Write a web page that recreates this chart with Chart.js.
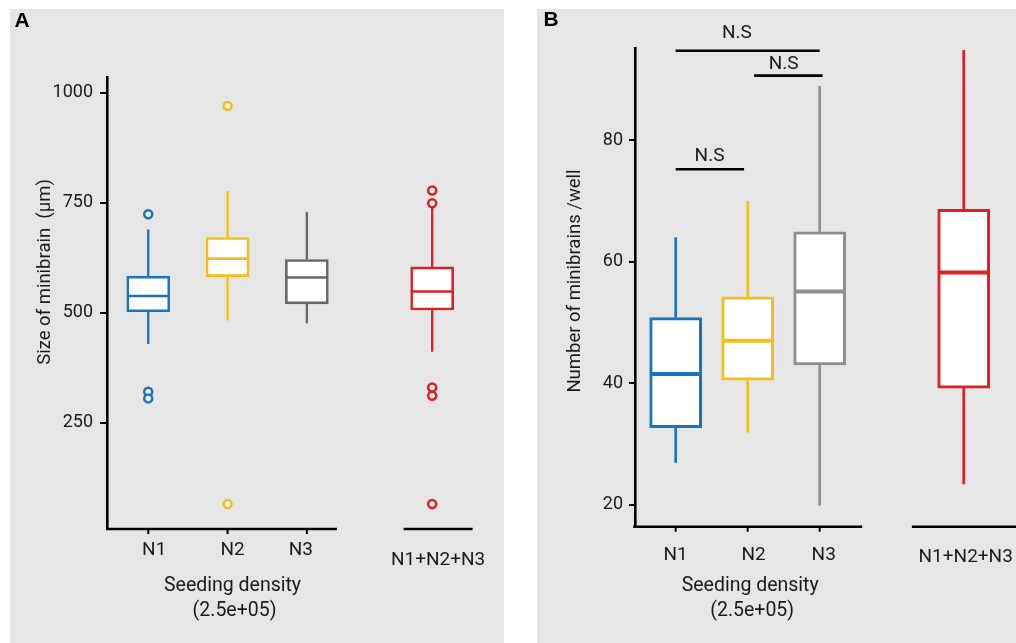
<!DOCTYPE html>
<html><head><meta charset="utf-8">
<script src="https://cdn.jsdelivr.net/npm/chart.js@4.4.1/dist/chart.umd.min.js"></script>
<style>
html,body{margin:0;padding:0;background:#fff;width:1016px;height:643px;overflow:hidden}
.panel{position:absolute;background:#e6e6e6}
#pa{left:10px;top:9px;width:494px;height:634px}
#pb{left:537px;top:9px;width:479px;height:634px}
canvas{display:block}
</style></head><body>
<div class="panel" id="pa"><canvas id="ca" width="494" height="634"></canvas></div>
<div class="panel" id="pb"><canvas id="cb" width="479" height="634"></canvas></div>
<script>
// ---------- data ----------
const categories = ['N1', 'N2', 'N3', 'N1+N2+N3'];
const xTitleLines = ['Seeding density', '(2.5e+05)'];

// Panel A: size of minibrain (µm)
const sizeTicks = [250, 500, 750, 1000];
const sizeMin    = [429, 482, 476, 411];
const sizeQ1     = [502, 582, 520, 506];
const sizeMedian = [538, 623, 580, 548];
const sizeQ3     = [583, 671, 621, 604];
const sizeMax    = [689, 777, 729, 742];
const sizeOutlierGroup = [0, 0, 0, 1, 1, 3, 3, 3, 3, 3];
const sizeOutlierValue = [724, 320, 305, 970, 65, 778, 749, 330, 311, 65];

// Panel B: number of minibrains / well
const countTicks = [20, 40, 60, 80];
const countMin    = [26.9, 31.9, 19.9, 23.4];
const countQ1     = [32.7, 40.5, 43.0, 39.2];
const countMedian = [41.5, 47.0, 55.1, 58.2];
const countQ3     = [50.8, 54.2, 64.9, 68.6];
const countMax    = [64.0, 70.0, 88.9, 94.8];

// significance brackets (panel B)
const sigFrom   = [1, 2.09, 1];
const sigTo     = [3, 3.04, 1.95];
const sigLevel  = [94.7, 90.6, 75.2];
const sigLabel  = ['N.S', 'N.S', 'N.S'];
const sigLabelX = [1.85, 2.5, 1.47];
const sigLabelY = [97.6, 92.4, 77.3];

// ---------- layout / style ----------
const FONT = 'Roboto, "Open Sans", sans-serif';
const colorsA = ['#1a73bf', '#f2bf1a', '#666666', '#de1f26'];
const colorsB = ['#1a73bf', '#f2bf1a', '#8f8f8f', '#de1f26'];
const posA = [1, 2, 3, 4.58];
const posB = [1, 2, 3, 5];

function boxPlugin(p) {
  return {
    id: 'box' + p.letter,
    beforeDatasetsDraw(chart) {
      const {ctx, scales: {x, y}} = chart;
      ctx.save();
      ctx.lineWidth = p.whiskerW;
      p.pos.forEach((pos, i) => {
        const px = x.getPixelForValue(pos);
        ctx.strokeStyle = p.colors[i];
        ctx.beginPath();
        ctx.moveTo(px, y.getPixelForValue(p.q3[i])); ctx.lineTo(px, y.getPixelForValue(p.max[i]));
        ctx.moveTo(px, y.getPixelForValue(p.q1[i])); ctx.lineTo(px, y.getPixelForValue(p.min[i]));
        ctx.stroke();
      });
      ctx.restore();
    },
    afterDatasetsDraw(chart) {
      const {ctx, scales: {x, y}} = chart;
      ctx.save();
      ctx.lineWidth = p.medianW;
      p.pos.forEach((pos, i) => {
        const px = x.getPixelForValue(pos);
        const hw = p.boxW / 2 - p.boxBorder / 2;
        const py = y.getPixelForValue(p.med[i]);
        ctx.strokeStyle = p.colors[i];
        ctx.beginPath(); ctx.moveTo(px - hw, py); ctx.lineTo(px + hw, py); ctx.stroke();
      });
      ctx.restore();
    },
    afterDraw(chart) {
      const {ctx, chartArea: ca, scales: {x, y}} = chart;
      ctx.save();
      // x axis segments
      ctx.strokeStyle = '#000'; ctx.lineWidth = 2.6;
      p.segments.forEach(s => {
        ctx.beginPath();
        ctx.moveTo(x.getPixelForValue(s[0]), ca.bottom);
        ctx.lineTo(x.getPixelForValue(s[1]), ca.bottom);
        ctx.stroke();
      });
      // tick marks
      ctx.lineWidth = 2;
      for (let i = 0; i < 3; i++) {
        const px = x.getPixelForValue(p.pos[i]);
        ctx.beginPath(); ctx.moveTo(px, ca.bottom); ctx.lineTo(px, ca.bottom + 5); ctx.stroke();
      }
      // tick labels
      ctx.fillStyle = '#1a1a1a';
      ctx.font = '19px ' + FONT;
      ctx.textAlign = 'center'; ctx.textBaseline = 'middle';
      categories.forEach((c, i) => {
        ctx.fillText(c, x.getPixelForValue(p.pos[i]) + p.labelDx[i], ca.bottom + (i < 3 ? p.labelDy : p.labelDy4));
      });
      // x title
      ctx.font = '19.5px ' + FONT;
      const tx = x.getPixelForValue(p.pos[1]) + p.titleDx;
      ctx.fillText(xTitleLines[0], tx, ca.bottom + p.titleDy);
      ctx.fillText(xTitleLines[1], tx + 2, ca.bottom + p.titleDy + 25);
      // y title
      ctx.save();
      ctx.translate(p.yTitleX, p.yTitleY);
      ctx.rotate(-Math.PI / 2);
      ctx.font = '18.5px ' + FONT;
      ctx.fillText(p.yTitle, 0, 0);
      ctx.restore();
      // panel letter
      ctx.font = 'bold 21px "Liberation Sans", Arial, sans-serif';
      ctx.fillStyle = '#000';
      ctx.fillText(p.letter, p.letterX, p.letterY);
      // significance bars
      if (p.sig) {
        ctx.lineWidth = 2.6;
        ctx.font = '19px ' + FONT;
        ctx.fillStyle = '#1a1a1a';
        sigFrom.forEach((f, k) => {
          const py = y.getPixelForValue(sigLevel[k]);
          const x0 = x.getPixelForValue(f), x1 = x.getPixelForValue(sigTo[k]);
          ctx.beginPath(); ctx.moveTo(x0, py); ctx.lineTo(x1, py); ctx.stroke();
          ctx.fillText(sigLabel[k], x.getPixelForValue(sigLabelX[k]), y.getPixelForValue(sigLabelY[k]));
        });
      }
      ctx.restore();
    }
  };
}

function makeChart(canvasId, p) {
  const boxes = {
    type: 'bar',
    data: categories.map((c, i) => ({x: p.pos[i], y: [p.q1[i], p.q3[i]]})),
    backgroundColor: '#ffffff',
    borderColor: p.colors,
    borderWidth: p.boxBorder,
    borderSkipped: false,
    barThickness: p.boxW,
    order: 2
  };
  const outliers = {
    type: 'scatter',
    data: p.outVal.map((v, k) => ({x: p.pos[p.outGrp[k]], y: v})),
    pointRadius: 4,
    pointBorderWidth: 2.5,
    pointBackgroundColor: '#f4f4f4',
    pointBorderColor: p.outGrp.map(g => p.colors[g]),
    order: 1
  };
  return new Chart(document.getElementById(canvasId), {
    type: 'bar',
    data: {datasets: p.outVal.length ? [boxes, outliers] : [boxes]},
    options: {
      responsive: false,
      animation: false,
      layout: {padding: p.padding},
      plugins: {legend: {display: false}, tooltip: {enabled: false}},
      scales: {
        x: {type: 'linear', display: false, min: p.xMin, max: p.xMax, offset: false},
        y: {
          type: 'linear', min: p.yMin, max: p.yMax,
          afterBuildTicks: s => { s.ticks = p.ticks.map(v => ({value: v})); },
          afterFit: s => { s.width = 60; },
          border: {display: true, color: '#000', width: 2.6},
          grid: {display: true, drawOnChartArea: false, drawTicks: true, tickLength: p.tickLen, color: '#000', lineWidth: 2},
          ticks: {font: {family: FONT, size: 18}, color: '#1a1a1a', padding: p.tickPad, callback: v => String(v)}
        }
      }
    },
    plugins: [boxPlugin(p)]
  });
}

makeChart('ca', {
  letter: 'A', letterX: 12, letterY: 12,
  pos: posA, colors: colorsA,
  min: sizeMin, q1: sizeQ1, med: sizeMedian, q3: sizeQ3, max: sizeMax,
  outGrp: sizeOutlierGroup, outVal: sizeOutlierValue,
  ticks: sizeTicks, yMin: 8, yMax: 1036, xMin: 0.48, xMax: 5.1,
  padding: {left: 37, top: 68, bottom: 114, right: 30.6},
  boxW: 43, boxBorder: 2.6, medianW: 2.6, whiskerW: 2.3,
  tickLen: 7, tickPad: 7,
  segments: [[0.47, 3.38], [4.22, 5.09]],
  labelDx: [6, 5, -6, 6], labelDy: 21, labelDy4: 31.7,
  titleDx: 5, titleDy: 57.5,
  yTitle: 'Size of minibrain  (\u00b5m)', yTitleX: 35, yTitleY: 263,
  sig: false
});

makeChart('cb', {
  letter: 'B', letterX: 14, letterY: 11,
  pos: posB, colors: colorsB,
  min: countMin, q1: countQ1, med: countMedian, q3: countQ3, max: countMax,
  outGrp: [], outVal: [],
  ticks: countTicks, yMin: 16.4, yMax: 95.1, xMin: 0.435, xMax: 5.4,
  padding: {left: 38, top: 39.3, bottom: 116.3, right: 23.5},
  boxW: 52, boxBorder: 3, medianW: 4, whiskerW: 2.6,
  tickLen: 6, tickPad: 6,
  segments: [[0.41, 3.59], [4.28, 5.8]],
  labelDx: [0, 6, 4, 2], labelDy: 28.3, labelDy4: 30.6,
  titleDx: 2.5, titleDy: 59,
  yTitle: 'Number of minibrains /well', yTitleX: 38, yTitleY: 272,
  sig: true
});
</script>
</body></html>
